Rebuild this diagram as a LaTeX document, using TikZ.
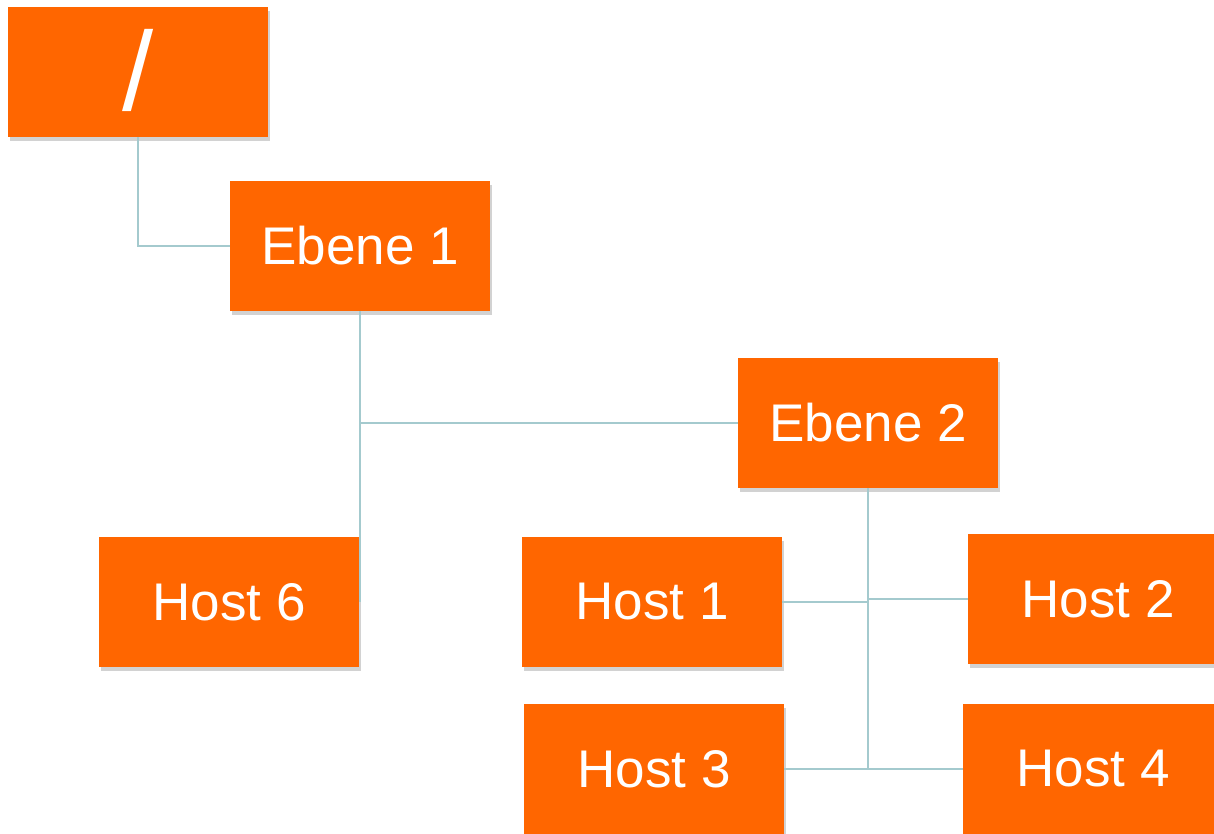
\documentclass[tikz,border=0pt]{standalone}
\usepackage{fontspec}
\setmainfont{Liberation Sans}
\usetikzlibrary{shadows}
\definecolor{boxorange}{RGB}{255,102,0}
\definecolor{linkcol}{RGB}{164,202,206}
\begin{document}
\begin{tikzpicture}[x=1pt,y=-1pt,
  box/.style={fill=boxorange, text=white, minimum width=260pt, minimum height=130pt,
    inner sep=0pt, font=\fontsize{53}{60}\selectfont,
    drop shadow={opacity=0.25, shadow xshift=2pt, shadow yshift=-4pt, fill=black!70}},
  link/.style={draw=linkcol, line width=2pt}]
\useasboundingbox (0,0) rectangle (1214,834);
\clip (0,0) rectangle (1214,834);
\node[box, font=\fontsize{112}{120}\selectfont] (root) at (138,72) {\raisebox{5pt}{/}};
\node[box] (e1) at (360,246) {Ebene 1};
\node[box] (e2) at (868,423) {Ebene 2};
\node[box] (h6) at (229,602) {Host 6};
\node[box] (h1) at (652,602) {Host 1};
\node[box] (h2) at (1098,599) {Host 2};
\node[box] (h3) at (654,769) {Host 3};
\node[box] (h4) at (1093,769) {Host 4};
\draw[link] (root.south) |- (e1.west);
\draw[link] (e1.south) -- (e1.south |- h6.east);
\draw[link] (e1.south |- e2.west) -- (e2.west);
\draw[link] (e2.south) -- (e2.south |- h4.west);
\draw[link] (h1.east) -- (h1.east -| e2.south);
\draw[link] (h2.west) -- (h2.west -| e2.south);
\draw[link] (h3.east) -- (h3.east -| e2.south);
\draw[link] (h4.west) -- (h4.west -| e2.south);
\end{tikzpicture}
\end{document}
